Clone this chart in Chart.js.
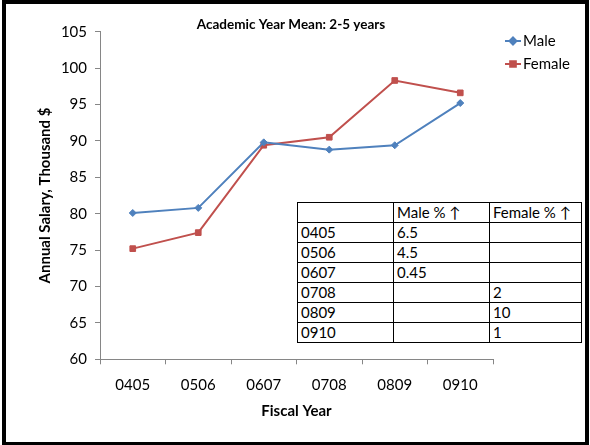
<!DOCTYPE html>
<html>
<head>
<meta charset="utf-8">
<script src="https://cdn.jsdelivr.net/npm/chart.js@4/dist/chart.umd.min.js"></script>
<style>
    body { margin: 0; background: #fff; }
    #wrap { position: relative; width: 590px; height: 445px; }
    #frame {
        position: absolute; left: 2px; top: 0; width: 587px; height: 445px;
        box-sizing: border-box; border: 4px solid #000; border-bottom-width: 3px;
        pointer-events: none;
    }
    #change-table {
        position: absolute; left: 297px; top: 202px;
        border-collapse: collapse; background: #fff;
        font-family: Lato, Carlito, Calibri, sans-serif; font-size: 15px; color: #000;
    }
    #change-table td {
        border: 1px solid #000; height: 19px; line-height: 19px;
        padding: 0 3px; white-space: nowrap;
    }
</style>
</head>
<body>
<div id="wrap">
    <canvas id="salaryChart" width="590" height="445"></canvas>
    <table id="change-table"><tbody id="change-body"></tbody></table>
    <div id="frame"></div>
</div>
<script>
// Academic year mean salary, 2-5 years

// Data
const fiscalYears = ['0405', '0506', '0607', '0708', '0809', '0910'];
const maleSalary = [80.1, 80.8, 89.8, 88.8, 89.4, 95.2];
const femaleSalary = [75.2, 77.4, 89.4, 90.5, 98.3, 96.6];
const yTicks = [60, 65, 70, 75, 80, 85, 90, 95, 100, 105];

// Table of percentage increases
const tableHeader = ['', 'Male % \u2191', 'Female % \u2191'];
const maleChange = ['6.5', '4.5', '0.45', '', '', ''];
const femaleChange = ['', '', '', '2', '10', '1'];

const chartTitle = 'Academic Year Mean: 2-5 years';
const FONT = 'Lato, Carlito, Calibri, sans-serif';
const AXIS_GRAY = '#868686';

// Build the table
function buildTable() {
    const tbody = document.getElementById('change-body');
    const widths = [89, 89, 85];
    const head = document.createElement('tr');
    tableHeader.forEach((t, i) => {
        const td = document.createElement('td');
        td.textContent = t;
        td.style.width = widths[i] + 'px';
        head.appendChild(td);
    });
    tbody.appendChild(head);
    fiscalYears.forEach((fy, i) => {
        const row = document.createElement('tr');
        row.innerHTML = `<td>${fy}</td><td>${maleChange[i]}</td><td>${femaleChange[i]}</td>`;
        tbody.appendChild(row);
    });
}

// Title + Excel style legend (short line with marker), placed like the original
const headerAndLegend = {
    id: 'headerAndLegend',
    afterDraw(chart) {
        const ctx = chart.ctx;
        ctx.save();
        ctx.fillStyle = '#000';
        ctx.font = 'bold 13.5px ' + FONT;
        ctx.textAlign = 'center';
        ctx.textBaseline = 'middle';
        ctx.fillText(chartTitle, 291, 25);

        const rows = [41, 64];
        chart.data.datasets.forEach((ds, i) => {
            const y = rows[i];
            ctx.strokeStyle = ds.borderColor;
            ctx.lineWidth = 2;
            ctx.beginPath();
            ctx.moveTo(505, y);
            ctx.lineTo(521, y);
            ctx.stroke();
            Chart.helpers.drawPoint(ctx, {
                pointStyle: ds.pointStyle,
                radius: ds.pointRadius,
                borderWidth: 1
            }, 513, y);
            ctx.fillStyle = ds.borderColor;
            ctx.fill();
            ctx.fillStyle = '#000';
            ctx.font = '15px ' + FONT;
            ctx.textAlign = 'left';
            ctx.textBaseline = 'middle';
            ctx.fillText(ds.label, 523, y);
        });
        ctx.restore();
    }
};

function drawChart() {
    const ctx = document.getElementById('salaryChart').getContext('2d');
    new Chart(ctx, {
        type: 'line',
        data: {
            labels: fiscalYears,
            datasets: [
                {
                    label: 'Male',
                    data: maleSalary,
                    borderColor: '#4F81BD',
                    backgroundColor: '#4F81BD',
                    borderWidth: 2,
                    pointStyle: 'rectRot',
                    pointRadius: 3.5,
                    pointBorderWidth: 1,
                    tension: 0
                },
                {
                    label: 'Female',
                    data: femaleSalary,
                    borderColor: '#C0504D',
                    backgroundColor: '#C0504D',
                    borderWidth: 2,
                    pointStyle: 'rect',
                    pointRadius: 4,
                    pointBorderWidth: 1,
                    tension: 0
                }
            ]
        },
        options: {
            responsive: false,
            animation: false,
            devicePixelRatio: 1,
            layout: { padding: { left: 0, right: 97, top: 31.7, bottom: 0 } },
            scales: {
                x: {
                    offset: true,
                    afterFit: s => { s.height = 85.7; },
                    grid: {
                        offset: true,
                        drawOnChartArea: false,
                        drawTicks: true,
                        tickLength: 5,
                        color: AXIS_GRAY
                    },
                    border: { display: true, color: AXIS_GRAY, width: 1 },
                    ticks: {
                        color: '#000',
                        font: { family: FONT, size: 15 },
                        padding: 12,
                        maxRotation: 0
                    },
                    title: {
                        display: true,
                        text: 'Fiscal Year',
                        color: '#000',
                        font: { family: FONT, size: 15, weight: 'bold' },
                        padding: { top: 0, bottom: 25 }
                    }
                },
                y: {
                    min: 60,
                    max: 105,
                    afterFit: s => { s.width = 100; },
                    afterBuildTicks: s => { s.ticks = yTicks.map(v => ({ value: v })); },
                    grid: {
                        drawOnChartArea: false,
                        drawTicks: true,
                        tickLength: 5,
                        color: AXIS_GRAY
                    },
                    border: { display: true, color: AXIS_GRAY, width: 1 },
                    ticks: {
                        color: '#000',
                        font: { family: FONT, size: 15 },
                        padding: 8
                    },
                    title: {
                        display: true,
                        text: 'Annual Salary, Thousand $',
                        color: '#000',
                        font: { family: FONT, size: 15, weight: 'bold' },
                        padding: { top: 36, bottom: 0 }
                    }
                }
            },
            plugins: {
                legend: { display: false },
                tooltip: { enabled: false },
                title: { display: false }
            }
        },
        plugins: [headerAndLegend]
    });
}

buildTable();
drawChart();
</script>
</body>
</html>
